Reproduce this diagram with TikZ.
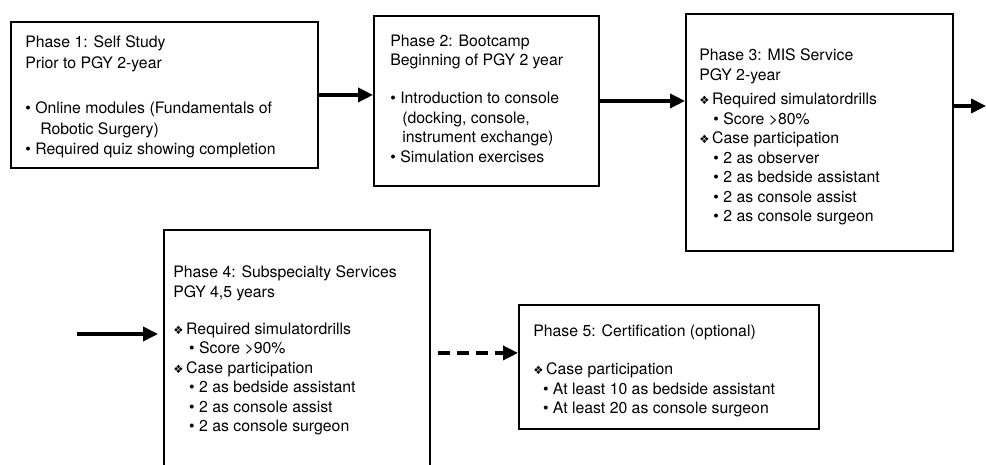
\documentclass[tikz,border=0pt]{standalone}
\usepackage{fontspec}
\setmainfont{TeX Gyre Heros}
\newfontfamily\symfont{DejaVu Sans}
\usetikzlibrary{arrows.meta}

\tikzset{
	phase/.style={draw, line width=1.1pt, anchor=north west, inner sep=0pt},
	phasetext/.style={anchor=north west, inner sep=0pt, align=left, font=\fontsize{9}{11.1}\selectfont},
	pfeil/.style={line width=1.9pt, -{Triangle[length=8.5pt,width=8pt]}},
}
\newcommand{\raute}{{\symfont\fontsize{6.5}{6.5}\selectfont ❖}\hspace{1.5pt}}

\begin{document}
\begin{tikzpicture}[x=0.02cm, y={(0cm,-0.02cm)}]
	\useasboundingbox (0,0) rectangle (986,465);
	\clip (0,0) rectangle (986,465);
	
	% Kästen der Phasen
	\node[phase, minimum width=6.14cm, minimum height=2.92cm] (p1) at (10,21) {};
	\node[phase, minimum width=4.5cm, minimum height=3.4cm] (p2) at (373,15) {};
	\node[phase, minimum width=5.34cm, minimum height=4.74cm] (p3) at (685,13) {};
	\node[phase, minimum width=5.32cm, minimum height=4.92cm] (p4) at (163,229) {};
	\node[phase, minimum width=6.0cm, minimum height=2.48cm] (p5) at (518,304) {};
	
	% Texte in den Kästen
	\node[phasetext, font=\fontsize{9}{11.6}\selectfont] (t1) at (25,35.5) {Phase 1: Self Study\\
		Prior to PGY 2-year\\[14.5pt]
		• Online modules (Fundamentals of\\
		\hspace*{8.5pt}Robotic Surgery)\\
		• Required quiz showing completion};
	\node[phasetext] (t2) at (390,34.5) {Phase 2: Bootcamp\\
		Beginning of PGY 2 year\\[10.5pt]
		• Introduction to console\\
		\hspace*{6.8pt}(docking, console,\\
		\hspace*{6.8pt}instrument exchange)\\
		• Simulation exercises};
	\node[phasetext] (t3) at (699,48.5) {Phase 3: MIS Service\\
		PGY 2-year\\[3pt]
		\raute Required simulatordrills\\
		\hspace*{8pt}• Score >80\%\\
		\raute Case participation\\
		\hspace*{8pt}• 2 as observer\\
		\hspace*{8pt}• 2 as bedside assistant\\
		\hspace*{8pt}• 2 as console assist\\
		\hspace*{8pt}• 2 as console surgeon};
	\node[phasetext] (t4) at (173,265.5) {Phase 4: Subspecialty Services\\
		PGY 4,5 years\\[10pt]
		\raute Required simulatordrills\\
		\hspace*{9pt}• Score >90\%\\
		\raute Case participation\\
		\hspace*{9pt}• 2 as bedside assistant\\
		\hspace*{9pt}• 2 as console assist\\
		\hspace*{9pt}• 2 as console surgeon};
	\node[phasetext] (t5) at (533,324.5) {Phase 5: Certification (optional)\\[10.5pt]
		\raute Case participation\\
		\hspace*{5.5pt}• At least 10 as bedside assistant\\
		\hspace*{5.5pt}• At least 20 as console surgeon};
	
	% Pfeile zwischen den Phasen
	\foreach \a/\b in {p1/p2, p2/p3} {
		\draw[pfeil] (\a.east) -- (\a.east -| \b.west);
	}
	\coordinate (aus) at (986,106);
	\coordinate (ein) at (77,334);
	\draw[pfeil] (p3.east |- aus) -- (aus);
	\draw[pfeil] (ein) -- ([xshift=-0.1cm]ein -| p4.west);
	\draw[pfeil, dash pattern=on 6.8pt off 4pt, shorten <=0.14cm] (p4.east) -- (p4.east -| p5.west);
\end{tikzpicture}
\end{document}
